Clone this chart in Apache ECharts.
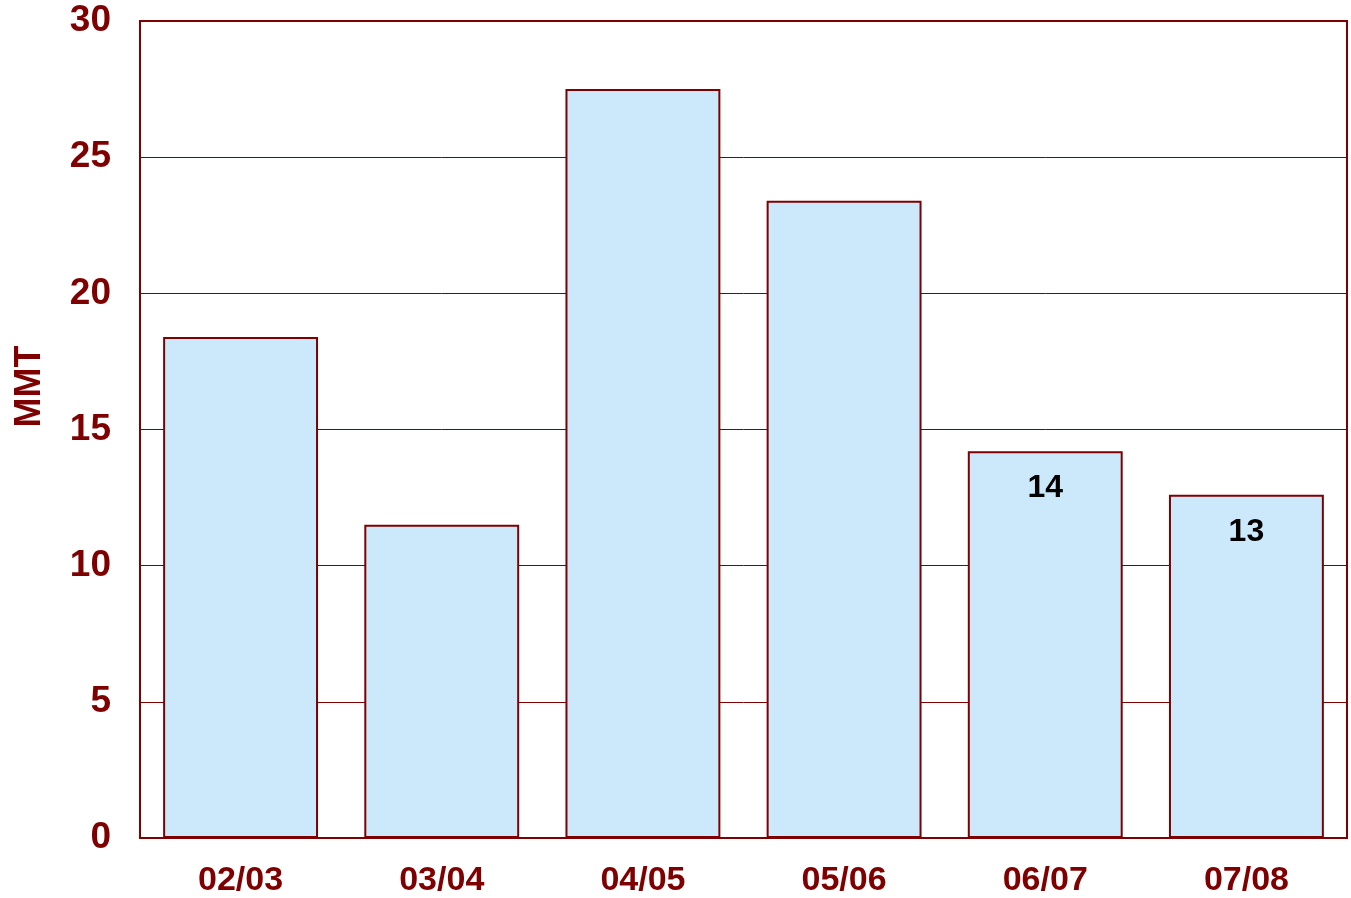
<!DOCTYPE html>
<html>
<head>
<meta charset="utf-8">
<style>
  html, body { margin: 0; padding: 0; background: #ffffff; }
  #chart { width: 1351px; height: 898px; }
</style>
<script src="https://cdn.jsdelivr.net/npm/echarts@6/dist/echarts.min.js"></script>
</head>
<body>
<div id="chart"></div>
<script>
// Marketing years
const categories = ['02/03', '03/04', '04/05', '05/06', '06/07', '07/08'];
// Volume in million metric tons
const volumes = [18.4, 11.5, 27.5, 23.4, 14.2, 12.6];
// Years whose bars carry a value label
const labelled = ['06/07', '07/08'];
const yTicks = [0, 5, 10, 15, 20, 25, 30];

const maroon = '#7f0000';
const font = '"Liberation Sans", Arial, sans-serif';

const chart = echarts.init(document.getElementById('chart'), null, { renderer: 'canvas' });

chart.setOption({
  animation: false,
  backgroundColor: '#ffffff',
  grid: {
    left: 140, right: 4, top: 21, bottom: 57,
    show: true, borderColor: maroon, borderWidth: 2, backgroundColor: 'transparent'
  },
  xAxis: {
    type: 'category',
    data: categories,
    axisLine: { show: true, lineStyle: { color: maroon, width: 2 } },
    axisTick: { show: false },
    axisLabel: {
      color: maroon, fontWeight: 'bold', fontSize: 34, fontFamily: font, margin: 26
    }
  },
  yAxis: {
    type: 'value',
    min: yTicks[0],
    max: yTicks[yTicks.length - 1],
    interval: 5,
    name: 'MMT',
    nameLocation: 'middle',
    nameGap: 92,
    nameRotate: 90,
    nameTextStyle: {
      color: maroon, fontWeight: 'bold', fontSize: 36, fontFamily: font,
      padding: [0, 0, 0, 86]
    },
    axisLine: { show: true, lineStyle: { color: maroon, width: 2 } },
    axisTick: { show: false },
    splitLine: { show: true, lineStyle: { color: maroon, width: 1 } },
    axisLabel: {
      color: maroon, fontWeight: 'bold', fontSize: 37, fontFamily: font, margin: 29,
      padding: [9, 0, 0, 0]
    }
  },
  series: [{
    type: 'bar',
    data: volumes,
    barCategoryGap: '23%',
    itemStyle: { color: '#cce9fc', borderColor: maroon, borderWidth: 2 },
    label: {
      show: true,
      position: 'insideTop',
      distance: 21,
      color: '#000000',
      fontWeight: 'bold',
      fontSize: 32,
      fontFamily: font,
      formatter: p => labelled.includes(p.name) ? String(Math.round(p.value)) : ''
    }
  }]
});
</script>
</body>
</html>
